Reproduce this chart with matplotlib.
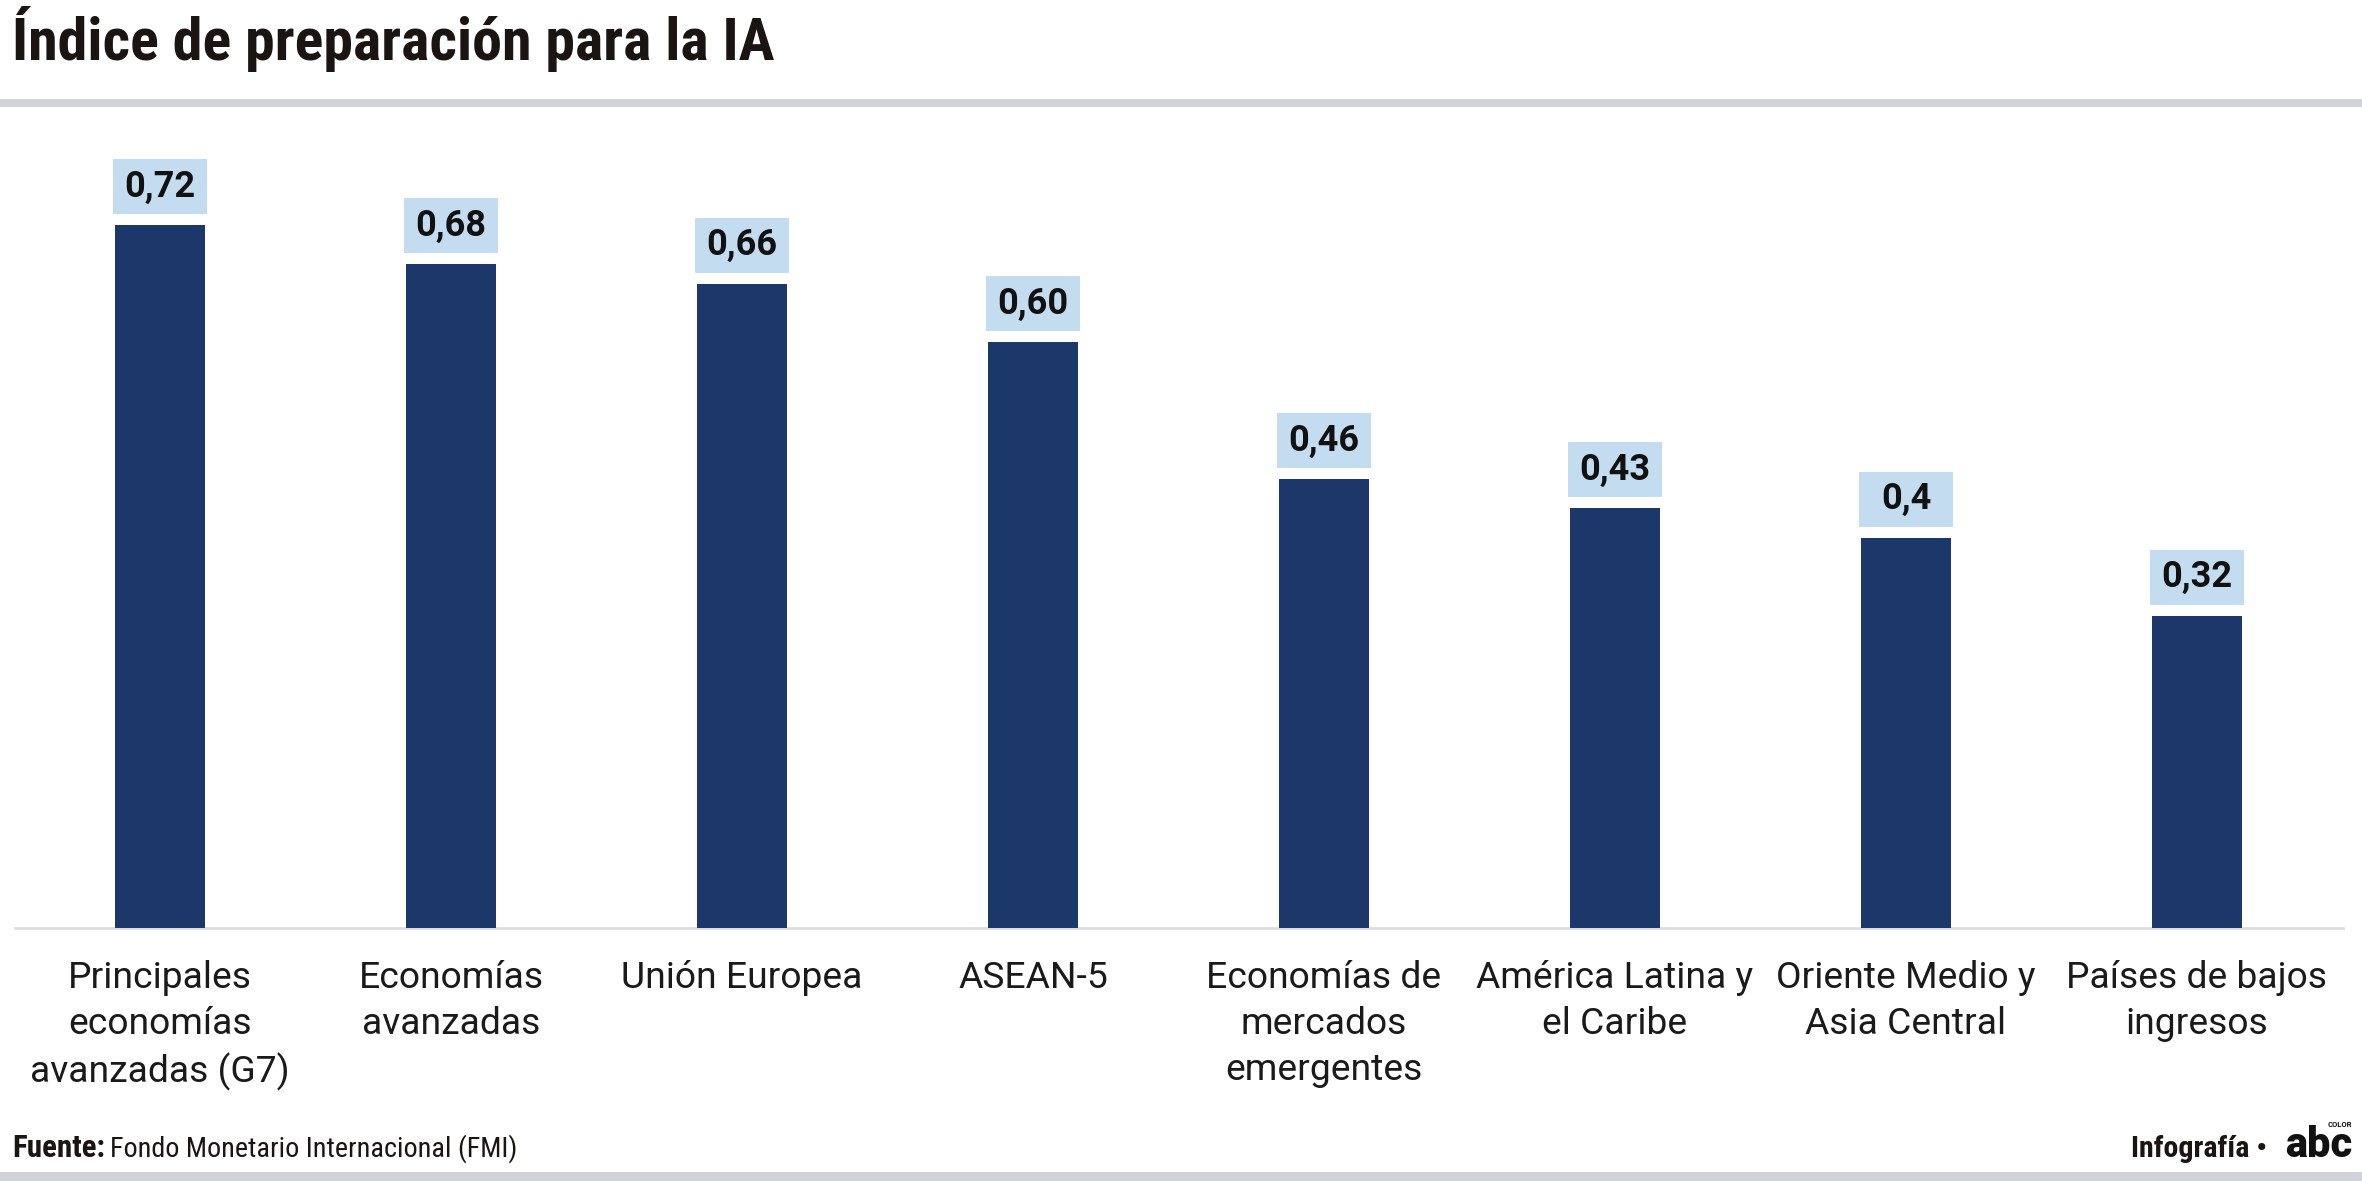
import matplotlib
matplotlib.use("Agg")
import matplotlib.pyplot as plt
from matplotlib import font_manager
from matplotlib.patches import Rectangle
import numpy as np

categories = [
    "Principales\neconomías\navanzadas (G7)",
    "Economías\navanzadas",
    "Unión Europea",
    "ASEAN-5",
    "Economías de\nmercados\nemergentes",
    "América Latina y\nel Caribe",
    "Oriente Medio y\nAsia Central",
    "Países de bajos\ningresos",
]
values = [0.72, 0.68, 0.66, 0.60, 0.46, 0.43, 0.40, 0.32]
value_labels = ["0,72", "0,68", "0,66", "0,60", "0,46", "0,43", "0,4", "0,32"]

W, H = 2362, 1181
BAR = "#1c386b"
BOX = "#c4dcf0"
RULE = "#d0d3d8"
INK = "#1a1412"


def pick_family(cands):
    names = {f.name for f in font_manager.fontManager.ttflist}
    for c in cands:
        if c in names:
            return [c, "Roboto", "DejaVu Sans"]
    return ["Roboto", "DejaVu Sans"]


NARROW = pick_family(["Roboto Condensed", "Liberation Sans Narrow",
                      "Open Sans Condensed", "DejaVu Sans Condensed"])

plt.rcParams["font.family"] = ["Roboto", "DejaVu Sans"]

fig = plt.figure(figsize=(W / 100, H / 100), dpi=100)


def fx(px):
    return px / W


def fy(py):
    # pixel measured from the top
    return 1 - py / H


def fit_width(txt, width_px):
    # shrink/grow a text so it spans the width seen in the source
    fig.canvas.draw()
    bb = txt.get_window_extent()
    txt.set_fontsize(txt.get_fontsize() * width_px / bb.width)


# plot area: x = 0 -> 14.5px, 8 slots of 291px ; y = 0 at 928px, 976px per unit
ax_l, ax_w = 14.5, 2328
ax_b = H - 928
ymax = 0.8
ax_h = ymax * 976
ax = fig.add_axes([fx(ax_l), ax_b / H, ax_w / W, ax_h / H])

x = np.arange(len(values))
ax.bar(x, values, width=0.31, color=BAR, zorder=3)

# value boxes sitting just above each bar
gap = 11 / 976
box_h = 55 / 976
ax.bar(x, box_h, width=0.32, bottom=np.array(values) + gap, color=BOX, zorder=3)
for xi, v, lab in zip(x, values, value_labels):
    ax.text(xi, v + gap + box_h / 2, lab, ha="center", va="center",
            fontsize=26, fontweight="bold", color="#111111", zorder=4)

ax.set_xlim(-0.5, len(values) - 0.5)
ax.set_ylim(0, ymax)
ax.set_xticks(x)
ax.set_xticklabels(categories, fontsize=26.8, color="#1a1a1a", linespacing=1.35)
ax.tick_params(axis="x", length=0, pad=23)
ax.set_yticks([])
for s in ["top", "left", "right"]:
    ax.spines[s].set_visible(False)
ax.spines["bottom"].set_color("#dedede")
ax.spines["bottom"].set_linewidth(2)

# header
title = fig.text(fx(12), fy(60), "Índice de preparación para la IA", family=NARROW,
                 fontsize=44, fontweight="bold", color=INK, va="baseline", ha="left")
fit_width(title, 764)
fig.add_artist(Rectangle((0, fy(107)), 1, 8 / H, transform=fig.transFigure,
                         color=RULE, lw=0))

# footer
fig.add_artist(Rectangle((0, 0), 1, 9 / H, transform=fig.transFigure,
                         color=RULE, lw=0))
src_a = fig.text(fx(12), fy(1157), "Fuente:", family=NARROW, fontsize=21,
                 fontweight="bold", color=INK, va="baseline", ha="left")
fit_width(src_a, 93)
fig.canvas.draw()
bb = src_a.get_window_extent()
src_b = fig.text(fx(bb.x1 + 5), fy(1157), "Fondo Monetario Internacional (FMI)",
                 family=NARROW, fontsize=21, color=INK, va="baseline", ha="left")
fit_width(src_b, 517 - bb.x1 - 5)

credit = fig.text(fx(2267), fy(1157), "Infografía •", family=NARROW, fontsize=21,
                  fontweight="bold", color=INK, va="baseline", ha="right")
fit_width(credit, 136)
fig.text(fx(2352), fy(1157), "abc", family=["Roboto", "DejaVu Sans"],
         fontsize=30, fontweight="heavy", color="#111111", va="baseline",
         ha="right")
fig.text(fx(2352), fy(1128), "COLOR", family=["Roboto", "DejaVu Sans"],
         fontsize=5.5, fontweight="bold", color="#111111", va="bottom",
         ha="right")

fig.savefig("out.png", dpi=100, facecolor="white")
